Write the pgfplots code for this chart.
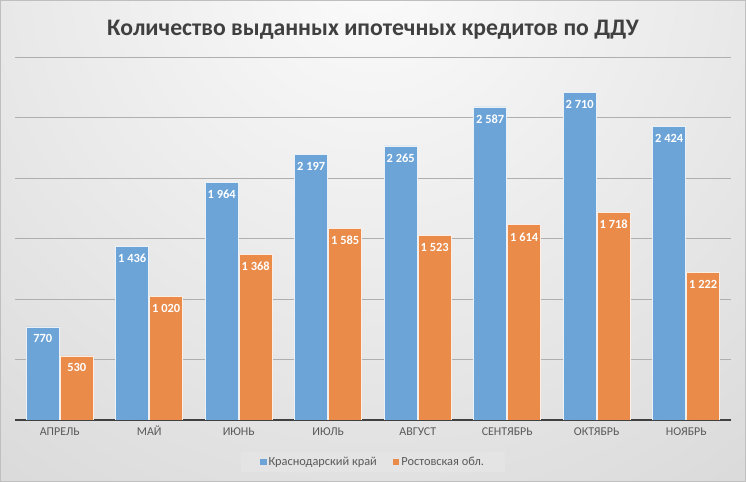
\documentclass[border=0pt]{standalone}
\usepackage{pgfplots}
\pgfplotsset{compat=1.18}
\usepackage{fontspec}
\setmainfont{Carlito}
\definecolor{barblue}{RGB}{108,164,216}
\definecolor{barorange}{RGB}{234,139,74}
\definecolor{gridgray}{RGB}{175,175,175}
\definecolor{axisdark}{RGB}{64,64,64}
\definecolor{ticktext}{RGB}{89,89,89}
\definecolor{titletext}{RGB}{64,64,64}
\definecolor{legfill}{RGB}{228,228,228}
\begin{document}
\begin{tikzpicture}
\useasboundingbox (0,0) rectangle (746bp,482bp);
\begin{scope}
\clip (0,0) rectangle (746bp,482bp);
\fill[gray!30] (0,0) rectangle (746bp,482bp);
\shade[inner color=white!97!gray, outer color=black!18] (373bp,520bp) circle (820bp);
\end{scope}
\draw[black!25, line width=0.8bp] (0.4bp,0.4bp) rectangle (745.6bp,481.6bp);
\node[font=\fontsize{23.8}{27}\selectfont\bfseries, text=titletext, anchor=center] at (373bp,452bp) {Количество выданных ипотечных кредитов по ДДУ};
\begin{axis}[
  at={(15bp,62bp)}, anchor=south west,
  scale only axis,
  width=716bp, height=363bp,
  ymin=0, ymax=3000,
  xmin=-0.5, xmax=7.5,
  ybar, bar width=33bp,
  ytick={0,500,...,3000},
  yticklabels={},
  major tick length=0pt,
  ymajorgrids, grid style={gridgray, line width=0.8bp},
  xtick=data,
  xticklabels={АПРЕЛЬ,МАЙ,ИЮНЬ,ИЮЛЬ,АВГУСТ,СЕНТЯБРЬ,ОКТЯБРЬ,НОЯБРЬ},
  typeset ticklabels with strut,
  xticklabel style={font=\fontsize{12}{14}\selectfont, text=ticktext, yshift=-2bp},
  axis x line*=bottom,
  axis y line*=left,
  y axis line style={draw=none},
  x axis line style={axisdark, line width=2bp, -},
  nodes near coords={\pgfmathprintnumber[fixed, precision=0, 1000 sep={\ }, assume math mode=true]{\pgfplotspointmeta}},
  every node near coord/.append style={anchor=north, inner sep=0pt, yshift=-7.5bp, font=\fontsize{12.5}{14}\selectfont\bfseries, text=white},
  legend style={at={(0.5,-0.1157)}, anchor=center, legend columns=2, fill=legfill, draw=none,
    font=\fontsize{12.4}{14}\selectfont, text=ticktext, inner xsep=19bp, inner ysep=3bp,
    /tikz/every even column/.append style={column sep=14bp}},
  legend image code/.code={\fill[#1, draw=none] (0bp,-3.3bp) rectangle (6.6bp,3.3bp);},
]
\addplot[fill=barblue, draw=white!85!barblue, line width=0.6bp, bar shift=-17bp] coordinates {
(0,770) (1,1436) (2,1964) (3,2197) (4,2265) (5,2587) (6,2710) (7,2424)};
\addplot[fill=barorange, draw=white!85!barorange, line width=0.6bp, bar shift=17bp] coordinates {
(0,530) (1,1020) (2,1368) (3,1585) (4,1523) (5,1614) (6,1718) (7,1222)};
\legend{Краснодарский край, Ростовская обл.}
\end{axis}
\end{tikzpicture}
\end{document}
